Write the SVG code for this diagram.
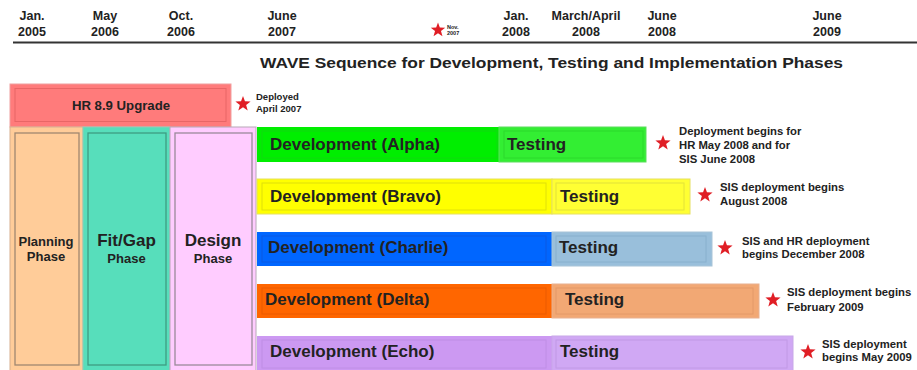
<svg xmlns="http://www.w3.org/2000/svg" xmlns:xlink="http://www.w3.org/1999/xlink" width="917" height="370" viewBox="0 0 917 370">
<style>
text{font-family:"Liberation Sans",Arial,sans-serif;font-weight:bold;fill:#222}
.tl{font-size:12.5px;text-anchor:middle}
.bar{font-size:17px}
.ann{font-size:11.3px}
.ph{text-anchor:middle}
.star{fill:#E01E25}
.in{fill:none;stroke-opacity:0.6}
</style>
<defs>
<polygon id="star" points="0,-8 1.94,-2.67 7.61,-2.47 3.14,1.02 4.7,6.47 0,3.3 -4.7,6.47 -3.14,1.02 -7.61,-2.47 -1.94,-2.67"/>
</defs>
<rect width="917" height="370" fill="#fff"/>
<g id="timeline">
<line x1="13" y1="42.5" x2="917" y2="42.5" stroke="#333" stroke-width="2.2"/>
<text class="tl" x="32" y="20">Jan.</text><text class="tl" x="32" y="36">2005</text>
<text class="tl" x="105" y="20">May</text><text class="tl" x="105" y="36">2006</text>
<text class="tl" x="181" y="20">Oct.</text><text class="tl" x="181" y="36">2006</text>
<text class="tl" x="282" y="20">June</text><text class="tl" x="282" y="36">2007</text>
<use href="#star" class="star" transform="translate(438,30) scale(0.95)"/>
<text x="447" y="29" style="font-size:5.5px">Nov.</text><text x="447" y="35" style="font-size:5.5px">2007</text>
<text class="tl" x="516" y="20">Jan.</text><text class="tl" x="516" y="36">2008</text>
<text class="tl" x="586" y="20">March/April</text><text class="tl" x="586" y="36">2008</text>
<text class="tl" x="662" y="20">June</text><text class="tl" x="662" y="36">2008</text>
<text class="tl" x="827" y="20">June</text><text class="tl" x="827" y="36">2009</text>
</g>
<text x="260" y="68" style="font-size:15.5px" textLength="583" lengthAdjust="spacingAndGlyphs">WAVE Sequence for Development, Testing and Implementation Phases</text>
<g id="hr">
<rect x="10" y="84" width="221" height="43" fill="#FF7B7B" stroke="#F0A0A0"/>
<rect x="15" y="88.5" width="211" height="33" class="in" stroke="#D85858"/>
<text x="121" y="110" class="ph" style="font-size:13.2px">HR 8.9 Upgrade</text>
<use href="#star" class="star" x="243" y="104"/>
<text x="256" y="100" style="font-size:9.5px">Deployed</text>
<text x="256" y="112" style="font-size:9.5px">April 2007</text>
</g>
<g id="planning">
<rect x="10" y="127" width="73" height="245" fill="#FFCC99" stroke="#D8B090"/>
<rect x="15" y="133" width="64" height="232" fill="none" stroke="#A08870" stroke-width="1.3"/>
<text x="46" y="246" class="ph" style="font-size:13px">Planning</text>
<text x="46" y="261" class="ph" style="font-size:13px">Phase</text>
</g>
<g id="fitgap">
<rect x="83" y="127" width="87" height="245" fill="#57DEBB" stroke="#8FCBB8"/>
<rect x="88" y="133" width="78" height="232" fill="none" stroke="#3E9C82" stroke-width="1.3"/>
<text x="126.5" y="246" class="ph" style="font-size:17px">Fit/Gap</text>
<text x="126.5" y="263" class="ph" style="font-size:13px">Phase</text>
</g>
<g id="design">
<rect x="170" y="127" width="86" height="245" fill="#FFCCFF" stroke="#B8A8B8"/>
<rect x="175" y="133" width="77" height="232" fill="none" stroke="#9A8A9A" stroke-width="1.3"/>
<text x="213" y="246" class="ph" style="font-size:17px">Design</text>
<text x="213" y="263" class="ph" style="font-size:13px">Phase</text>
</g>
<g id="alpha">
<rect x="257" y="127" width="242" height="35" fill="#00EE00"/>
<rect x="262" y="131" width="235" height="27" class="in" stroke="#1CCB1C"/>
<rect x="499" y="127" width="147" height="35" fill="#33EE33" stroke="#5CDD5C"/>
<rect x="504" y="131" width="139" height="27" class="in" stroke="#2ACC2A"/>
<text x="270" y="150" class="bar">Development (Alpha)</text>
<text x="507" y="150" class="bar">Testing</text>
<use href="#star" class="star" x="663" y="143"/>
<text x="679" y="135" class="ann">Deployment begins for</text>
<text x="679" y="149" class="ann">HR May 2008 and for</text>
<text x="679" y="163" class="ann">SIS June 2008</text>
</g>
<g id="bravo">
<rect x="257" y="179" width="295" height="35" fill="#FFFF00" stroke="#E6E060"/>
<rect x="262" y="183" width="284" height="27" class="in" stroke="#CCCC10"/>
<rect x="552" y="179" width="138" height="35" fill="#FFFF33" stroke="#E6E060"/>
<rect x="556" y="183" width="128" height="27" class="in" stroke="#D0D040"/>
<text x="270" y="202" class="bar">Development (Bravo)</text>
<text x="560" y="202" class="bar">Testing</text>
<use href="#star" class="star" x="705" y="195"/>
<text x="720" y="191" class="ann">SIS deployment begins</text>
<text x="720" y="205" class="ann">August 2008</text>
</g>
<g id="charlie">
<rect x="257" y="232" width="295" height="34" fill="#0066FF"/>
<rect x="262" y="236" width="284" height="26" class="in" stroke="#1050D0"/>
<rect x="552" y="232" width="160" height="34" fill="#99BFDB" stroke="#A8C4D8"/>
<rect x="556" y="236" width="150" height="26" class="in" stroke="#7EA6C4"/>
<text x="268" y="253" class="bar">Development (Charlie)</text>
<text x="559" y="253" class="bar">Testing</text>
<use href="#star" class="star" x="725" y="248"/>
<text x="742" y="245" class="ann">SIS and HR deployment</text>
<text x="742" y="258" class="ann">begins December 2008</text>
</g>
<g id="delta">
<rect x="257" y="284" width="295" height="34" fill="#FF6600"/>
<rect x="262" y="288" width="284" height="26" class="in" stroke="#DD5500"/>
<rect x="552" y="284" width="207" height="34" fill="#F2A874" stroke="#E8B090"/>
<rect x="556" y="288" width="197" height="26" class="in" stroke="#D89060"/>
<text x="265" y="305" class="bar">Development (Delta)</text>
<text x="565" y="305" class="bar">Testing</text>
<use href="#star" class="star" x="773" y="300"/>
<text x="787" y="296" class="ann">SIS deployment begins</text>
<text x="787" y="311" class="ann">February 2009</text>
</g>
<g id="echo">
<rect x="257" y="336" width="295" height="36" fill="#CC99F2"/>
<rect x="262" y="340" width="284" height="28" class="in" stroke="#B888DC"/>
<rect x="552" y="336" width="241" height="36" fill="#D0A8F4" stroke="#C8A8E8"/>
<rect x="556" y="340" width="231" height="28" class="in" stroke="#B890DC"/>
<text x="270" y="357" class="bar">Development (Echo)</text>
<text x="560" y="357" class="bar">Testing</text>
<use href="#star" class="star" x="808" y="352"/>
<text x="822" y="348" class="ann">SIS deployment</text>
<text x="822" y="361" class="ann">begins May 2009</text>
</g>
<g id="connectors"></g>
</svg>
